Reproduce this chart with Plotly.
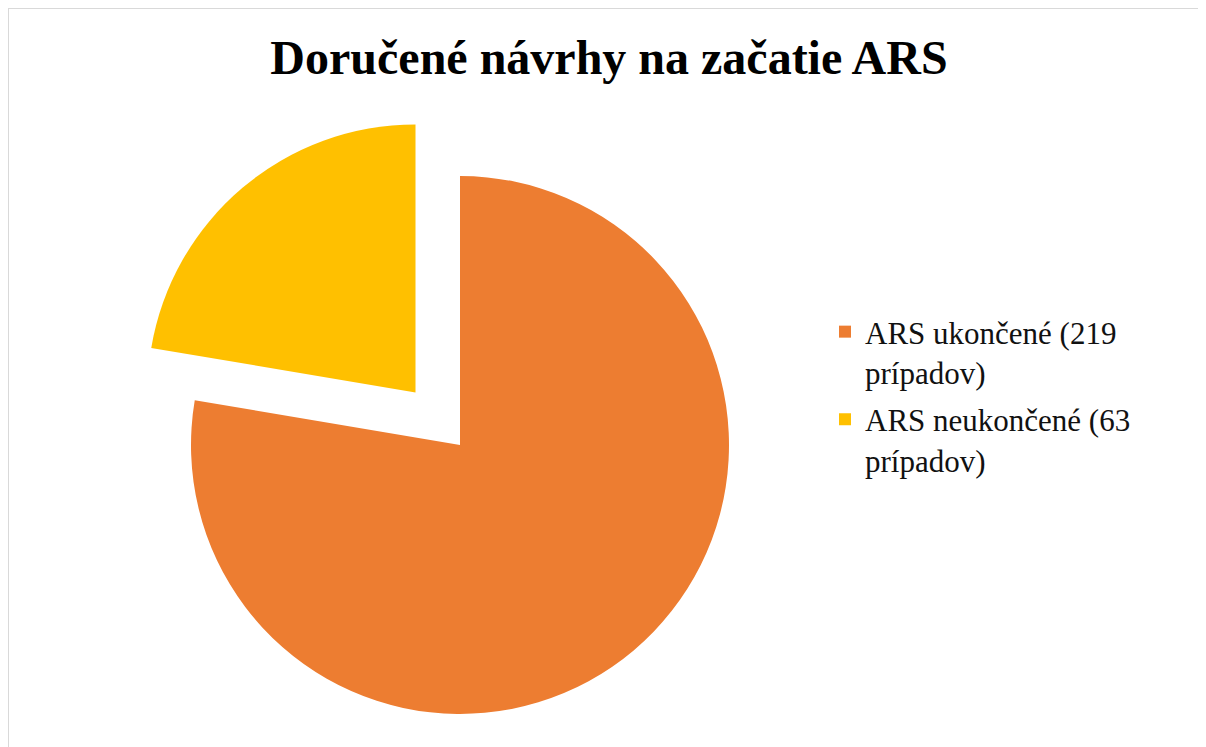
import plotly.graph_objects as go

# ---- data ----
labels = ["ARS ukončené (219<br>prípadov)", "ARS neukončené (63<br>prípadov)"]
values = [219, 63]
colors = ["#ED7D31", "#FFC000"]
title_text = "Doručené návrhy na začatie ARS"

W, H = 1206, 747
TRANSPARENT = "rgba(0,0,0,0)"


def dom(cx, cy, r):
    """square domain (paper coords) for a pie centered at pixel (cx, cy) of radius r"""
    return dict(x=[(cx - r) / W, (cx + r) / W], y=[1 - (cy + r) / H, 1 - (cy - r) / H])


fig = go.Figure()

# main pie body (ARS ukončené); the exploded slice is transparent here
fig.add_trace(go.Pie(
    labels=labels, values=values, sort=False, direction="clockwise", rotation=0,
    marker=dict(colors=[colors[0], TRANSPARENT], line=dict(width=0)),
    textinfo="none", hoverinfo="label+value", showlegend=False,
    domain=dom(452, 437, 269),
))
# exploded slice (ARS neukončené)
fig.add_trace(go.Pie(
    labels=labels, values=values, sort=False, direction="clockwise", rotation=0,
    marker=dict(colors=[TRANSPARENT, colors[1]], line=dict(width=0)),
    textinfo="none", hoverinfo="label+value", showlegend=False,
    domain=dom(407.5, 384.5, 268),
))

# legend entries
for i, (lab, col) in enumerate(zip(labels, colors)):
    fig.add_trace(go.Scatter(
        x=[None], y=[None], mode="markers", name=lab, legendgroup=f"g{i}",
        marker=dict(symbol="square", size=12, color=col, line=dict(width=0)),
        showlegend=True, hoverinfo="skip",
    ))

fig.update_layout(
    width=W, height=H,
    margin=dict(l=0, r=0, t=0, b=0),
    paper_bgcolor="white", plot_bgcolor="white",
    xaxis=dict(visible=False), yaxis=dict(visible=False),
    title=dict(
        text=title_text, x=601 / W, xanchor="center", y=1 - 49.5 / H, yanchor="middle",
        font=dict(family="Liberation Serif", size=48, color="black", weight="bold"),
    ),
    legend=dict(
        x=817 / W, xanchor="left", y=1 - 297 / H, yanchor="top",
        valign="top", bgcolor="rgba(0,0,0,0)", tracegroupgap=4,
        font=dict(family="Liberation Serif", size=31, color="#111111"),
        itemclick=False, itemdoubleclick=False,
    ),
    shapes=[dict(
        type="rect", xref="paper", yref="paper",
        x0=0, x1=1.05, y0=-0.05, y1=1,
        line=dict(color="#D9D9D9", width=2), fillcolor="rgba(0,0,0,0)", layer="below",
    )],
)

fig.write_html("out.html")
